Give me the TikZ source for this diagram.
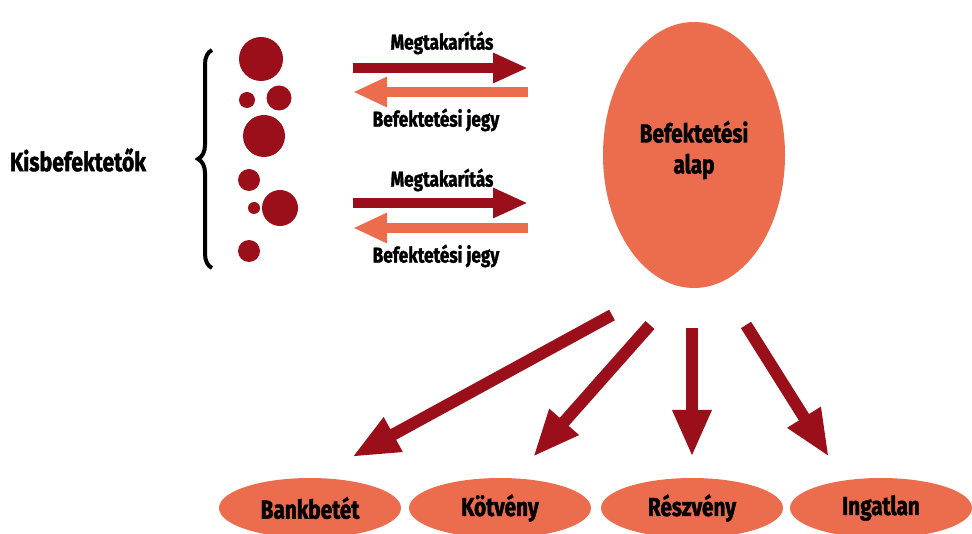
\documentclass[tikz,border=0pt]{standalone}
\usepackage{fontspec}
\setmainfont{Fira Sans}[FakeStretch=0.8,BoldFeatures={FakeBold=1.5}]
\usetikzlibrary{arrows.meta,shapes.geometric,decorations.pathreplacing}
\definecolor{dred}{RGB}{155,15,26}
\definecolor{oran}{RGB}{236,108,78}
\tikzset{
  dot/.style={circle,fill=dred,inner sep=0pt,minimum size=#1},
  lbl/.style={font=\fontsize{21.5}{22}\selectfont\bfseries,inner sep=0pt},
  bigtxt/.style={font=\fontsize{26.5}{31}\selectfont\bfseries,inner sep=0pt},
  fund/.style={ellipse,fill=oran,inner sep=0pt,minimum width=182pt,minimum height=266pt},
  fundtxt/.style={align=center,inner sep=0pt,font=\fontsize{26}{34}\selectfont\bfseries},
  asset/.style={ellipse,fill=oran,inner sep=0pt,minimum width=182pt,minimum height=60pt,font=\fontsize{26}{28}\selectfont\bfseries},
  flowin/.style={draw=dred,line width=10pt,-{Triangle[width=28pt,length=35pt]}},
  flowout/.style={draw=oran,line width=10pt,-{Triangle[width=28pt,length=34pt]}},
  invest/.style={draw=dred,line width=12pt,-{Triangle[width=36pt,length=47pt]}},
}
\begin{document}
\begin{tikzpicture}[x=1pt,y=-1pt]
\useasboundingbox (0,0) rectangle (972,534);
% investors
\node[bigtxt] (kis) at (78,160) {Kisbefektetők};
\coordinate (bt) at (212,50);
\coordinate (bb) at (212,268);
\draw[line width=4pt,decorate,decoration={brace,amplitude=14pt}] (bb) -- (bt);
\node[dot=44pt] (c1) at (261,59) {};
\node[dot=16pt] (c2) at (247,100) {};
\node[dot=25pt] (c3) at (279,98) {};
\node[dot=42pt] (c4) at (264,136) {};
\node[dot=22pt] (c5) at (249,180) {};
\node[dot=12pt] (c6) at (254,208) {};
\node[dot=36pt] (c7) at (280,208) {};
\node[dot=22pt] (c8) at (249,251) {};
% flows
\coordinate (l1) at (353,68);  \coordinate (r1) at (528,68);
\coordinate (l2) at (353,92);  \coordinate (r2) at (528,92);
\coordinate (l3) at (353,203); \coordinate (r3) at (528,203);
\coordinate (l4) at (353,228); \coordinate (r4) at (528,228);
\draw[flowin] (l1) -- (r1);
\draw[flowout] (r2) -- (l2);
\draw[flowin] (l3) -- (r3);
\draw[flowout] (r4) -- (l4);
\node[lbl] (m1) at (442,43) {Megtakarítás};
\node[lbl] (j1) at (436,120) {Befektetési jegy};
\node[lbl] (m2) at (442,180) {Megtakarítás};
\node[lbl] (j2) at (436,256) {Befektetési jegy};
% fund
\node[fund] (alap) at (694,155) {};
\node[fundtxt] (alaptxt) at (694,150) {Befektetési\\[-3pt]alap};
% assets
\node[asset] (bank) at (310,508) {Bankbetét};
\node[asset] (kot) at (500,508) {Kötvény};
\node[asset] (resz) at (692,508) {Részvény};
\node[asset] (ing) at (881,508) {Ingatlan};
% investment arrows
\coordinate (s1) at (612,315); \coordinate (t1) at (352,457);
\coordinate (s2) at (650,325); \coordinate (t2) at (533,457);
\coordinate (s3) at (692,328); \coordinate (t3) at (692,457);
\coordinate (s4) at (746,325); \coordinate (t4) at (829,457);
\draw[invest] (s1) -- (t1);
\draw[invest] (s2) -- (t2);
\draw[invest] (s3) -- (t3);
\draw[invest] (s4) -- (t4);
\end{tikzpicture}
\end{document}
